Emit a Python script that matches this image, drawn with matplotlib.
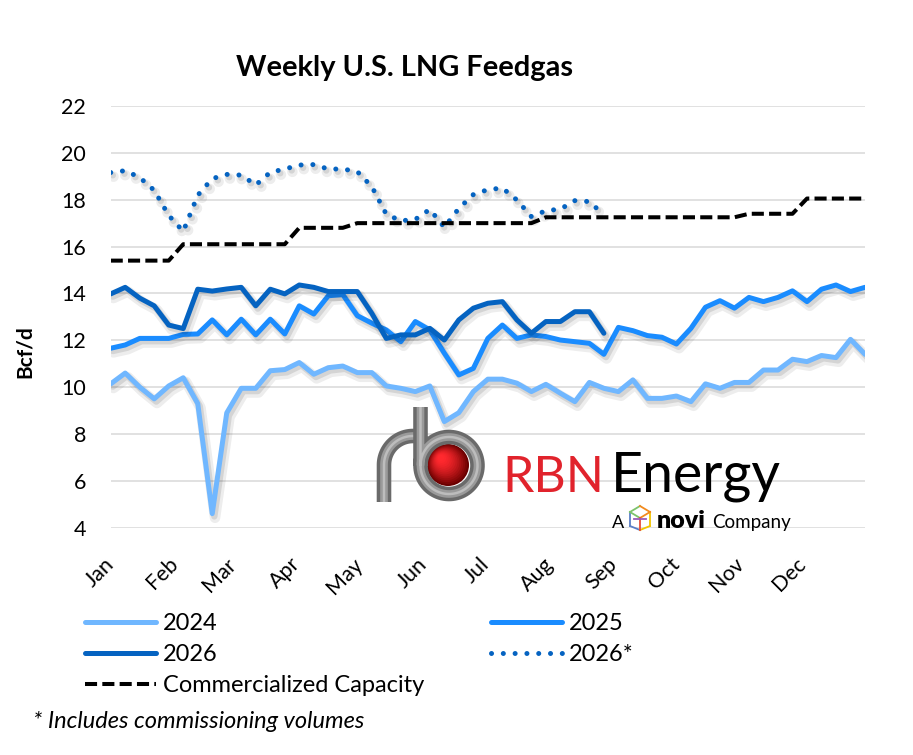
import numpy as np
import matplotlib
matplotlib.use("Agg")
import matplotlib.pyplot as plt
from matplotlib import patheffects as pe
from matplotlib.transforms import Affine2D, ScaledTranslation
from matplotlib.patches import Circle
from matplotlib.lines import Line2D

plt.rcParams['font.family'] = ['Lato', 'DejaVu Sans']

# ---------------- data ----------------
months = ["Jan", "Feb", "Mar", "Apr", "May", "Jun", "Jul", "Aug", "Sep", "Oct", "Nov", "Dec"]
month_start_day = [0, 31, 59, 90, 120, 151, 181, 212, 243, 273, 304, 334]

feedgas_2024 = [10.14, 10.6, 10.0, 9.5, 10.05, 10.4, 9.3, 4.6, 8.9, 9.95,
                9.95, 10.7, 10.75, 11.05, 10.55, 10.83, 10.9, 10.62, 10.62, 10.05,
                9.95, 9.81, 10.05, 8.53, 8.91, 9.81, 10.34, 10.34, 10.17, 9.81,
                10.12, 9.74, 9.38, 10.2, 9.95, 9.81, 10.31, 9.52, 9.52, 9.62,
                9.38, 10.14, 9.95, 10.2, 10.2, 10.73, 10.73, 11.19, 11.09, 11.35,
                11.26, 12.04, 11.4]
feedgas_2025 = [11.66, 11.8, 12.08, 12.08, 12.08, 12.25, 12.27, 12.87, 12.23, 12.9,
                12.23, 12.9, 12.27, 13.47, 13.12, 13.9, 13.95, 13.05, 12.73, 12.44,
                11.94, 12.8, 12.44, 11.45, 10.52, 10.8, 12.08, 12.65, 12.08, 12.23,
                12.16, 12.01, 11.94, 11.87, 11.4, 12.55, 12.41, 12.2, 12.13, 11.84,
                12.51, 13.41, 13.69, 13.37, 13.83, 13.65, 13.83, 14.11, 13.65, 14.18,
                14.36, 14.08, 14.26]
feedgas_2026 = [13.98, 14.26, 13.8, 13.47, 12.65, 12.5, 14.18, 14.1, 14.19, 14.26,
                13.47, 14.18, 13.98, 14.36, 14.26, 14.08, 14.08, 14.08, 13.15, 12.08,
                12.23, 12.23, 12.51, 12.01, 12.87, 13.37, 13.58, 13.65, 12.87, 12.3,
                12.8, 12.8, 13.22, 13.22, 12.3]
feedgas_2026_comm = [19.16, 19.24, 18.95, 18.4, 17.33, 16.65, 18.19, 18.9, 19.08, 19.05,
                     18.63, 19.17, 19.31, 19.48, 19.5, 19.31, 19.31, 19.2, 18.56, 17.38,
                     17.1, 17.16, 17.59, 16.82, 17.63, 18.22, 18.43, 18.5, 17.99, 17.28,
                     17.53, 17.6, 17.96, 17.92, 17.35]
capacity = [15.4, 15.4, 15.4, 15.4, 15.4,
            16.1, 16.1, 16.1, 16.1, 16.1, 16.1, 16.1, 16.1,
            16.8, 16.8, 16.8, 16.8,
            17.0, 17.0, 17.0, 17.0, 17.0, 17.0, 17.0, 17.0, 17.0, 17.0, 17.0, 17.0, 17.0,
            17.25, 17.25, 17.25, 17.25, 17.25, 17.25, 17.25, 17.25, 17.25, 17.25, 17.25,
            17.25, 17.25, 17.25,
            17.4, 17.4, 17.4, 17.4,
            18.05, 18.05, 18.05, 18.05, 18.05]

y_ticks = [4, 6, 8, 10, 12, 14, 16, 18, 20, 22]

# week positions in days of year
week_day = np.arange(len(feedgas_2024)) * 7

# ---------------- style ----------------
c2024 = "#70b7ff"
c2025 = "#1a8cff"
c2026 = "#0563c1"
LW = 3.6

W, H = 913, 755
def fx(px):
    return px / W
def fy(py):
    return 1 - py / H

fig = plt.figure(figsize=(W / 100, H / 100), dpi=100)
fig.patch.set_facecolor("white")
ax = fig.add_axes([fx(110.7), fy(527.7), (865 - 110.7) / W, (527.7 - 106) / H])

shadow = [pe.SimpleLineShadow(offset=(2.0, -3.0), shadow_color='k', alpha=0.07, linewidth=LW + 4),
          pe.SimpleLineShadow(offset=(1.5, -2.0), shadow_color='k', alpha=0.10, linewidth=LW + 1),
          pe.Normal()]

ax.plot(week_day, feedgas_2024, color=c2024, lw=LW, solid_joinstyle='round',
        solid_capstyle='round', path_effects=shadow, zorder=3)
ax.plot(week_day, feedgas_2025, color=c2025, lw=LW, solid_joinstyle='round',
        solid_capstyle='round', path_effects=shadow, zorder=3.1)
ax.plot(week_day[:len(feedgas_2026)], feedgas_2026, color=c2026, lw=LW,
        solid_joinstyle='round', solid_capstyle='round', path_effects=shadow, zorder=3.2)
ax.plot(week_day[:len(feedgas_2026_comm)], feedgas_2026_comm, color=c2026, lw=LW,
        linestyle=(0, (0.01, 2.35)), dash_capstyle='round', path_effects=shadow, zorder=3.3)
ax.plot(week_day, capacity, color='black', lw=2.9, linestyle=(0, (3.0, 1.3)),
        dash_capstyle='butt', zorder=3.4)

ax.set_xlim(0, 364)
ax.set_ylim(4, 22)
ax.set_yticks(y_ticks)
ax.set_yticklabels([str(v) for v in y_ticks])
ax.set_xticks(month_start_day)
ax.set_xticklabels(months, rotation=45, ha='right', va='center', rotation_mode='anchor')
off = ScaledTranslation(0.06, 0, fig.dpi_scale_trans)
for lbl in ax.get_xticklabels():
    lbl.set_transform(lbl.get_transform() + off)

ax.tick_params(axis='y', length=0, pad=17.8, labelsize=15.5, labelcolor='black')
ax.tick_params(axis='x', length=0, pad=24, labelsize=15.5, labelcolor='black')
ax.grid(axis='y', color='#d9d9d9', lw=1.1)
ax.grid(axis='x', visible=False)
ax.set_axisbelow(True)
for s in ax.spines.values():
    s.set_visible(False)

# ---------------- titles ----------------
fig.text(fx(404), fy(68), "Weekly U.S. LNG Feedgas", ha='center', va='center',
         fontsize=20.9, fontweight='bold')
fig.text(fx(25), fy(352), "Bcf/d", ha='center', va='center', rotation=90,
         fontsize=15, fontweight='bold')
fig.text(fx(33), fy(722), "* Includes commissioning volumes", ha='left', va='center',
         fontsize=17, style='italic')

# ---------------- legends ----------------
h2024 = Line2D([], [], color=c2024, lw=LW, solid_capstyle='round')
h2025 = Line2D([], [], color=c2025, lw=LW, solid_capstyle='round')
h2026 = Line2D([], [], color=c2026, lw=LW, solid_capstyle='round')
h2026s = Line2D([], [], color=c2026, lw=LW, linestyle=(0, (0.01, 2.35)), dash_capstyle='round')
hcap = Line2D([], [], color='black', lw=2.9, linestyle=(0, (3.0, 1.3)))
leg_kw = dict(loc='upper left', frameon=False, fontsize=17, handlelength=3.0,
              handletextpad=0.3, labelspacing=0.42, borderpad=0, borderaxespad=0)
fig.legend([h2024, h2026, hcap], ["2024", "2026", "Commercialized Capacity"],
           bbox_to_anchor=(fx(85), fy(613)), **leg_kw)
fig.legend([h2025, h2026s], ["2025", "2026*"],
           bbox_to_anchor=(fx(491), fy(613)), **leg_kw)

# ---------------- logo (pixel coordinates, top-left origin) ----------------
T = Affine2D().scale(1, -1).translate(0, H)

# red sphere with simple gradient
N = 14
dark = np.array([0.42, 0.0, 0.0])
bright = np.array([1.0, 0.16, 0.18])
for k in range(N):
    t = k / (N - 1)
    r = 21 * (1 - 0.85 * t)
    cx = 448 - 7 * t
    cy = 465 - 7 * t
    col = dark * (1 - t) ** 1.5 + bright * (1 - (1 - t) ** 1.5)
    ax.add_patch(Circle((cx, cy), r, transform=T, facecolor=col, edgecolor='none',
                        zorder=1.5, clip_on=False))

# pipe "r"
th = np.linspace(np.pi, np.pi / 2, 30)
rx = np.concatenate([[384, 384], 413 + 29 * np.cos(th), [421]])
ry = np.concatenate([[502, 465], 465 - 29 * np.sin(th), [436]])
# pipe "b"
th2 = np.linspace(np.pi, np.pi + 2 * np.pi, 90)
bx = np.concatenate([[420.5, 420.5], 449 + 28.5 * np.cos(th2)])
by = np.concatenate([[407, 465.5], 465.5 - 28.5 * np.sin(th2)])
for xs, ys, z in [(rx, ry, 1.6), (bx, by, 1.7)]:
    ax.add_line(Line2D(xs, ys, transform=T, color='#6a6a6a', lw=10.5,
                       solid_capstyle='butt', solid_joinstyle='round', zorder=z, clip_on=False))
    ax.add_line(Line2D(xs, ys, transform=T, color='#9a9a9a', lw=5.5,
                       solid_capstyle='butt', solid_joinstyle='round', zorder=z + 0.01, clip_on=False))
    ax.add_line(Line2D(xs, ys, transform=T, color='#bdbdbd', lw=1.8,
                       solid_capstyle='butt', solid_joinstyle='round', zorder=z + 0.02, clip_on=False))

ax.text(502, 492, "RBN", transform=T, fontsize=36, color="#e1232c", ha='left',
        va='baseline', zorder=1.8, clip_on=False)
ax.text(611, 492, "Energy", transform=T, fontsize=40, color="black", ha='left',
        va='baseline', zorder=1.8, clip_on=False)
ax.text(612, 528, "A", transform=T, fontsize=13, color="black", ha='left',
        va='baseline', zorder=1.8, clip_on=False)
ax.text(657, 528, "novi", transform=T, fontsize=18, color="black", ha='left',
        va='baseline', fontweight='heavy', zorder=1.8, clip_on=False)
ax.text(712, 528, "Company", transform=T, fontsize=13.5, color="black", ha='left',
        va='baseline', zorder=1.8, clip_on=False)
icon_segments = [
    ((630, 512), (630, 526), '#5b7fc7'), ((630, 526), (640, 530), '#5b7fc7'),
    ((640, 506), (630, 512), '#7cc36b'), ((640, 518), (630, 512), '#7cc36b'),
    ((650, 512), (650, 526), '#f2c500'), ((640, 530), (650, 526), '#f2c500'),
    ((640, 506), (650, 512), '#f28a1e'), ((640, 518), (650, 512), '#f28a1e'),
    ((640, 518), (640, 530), '#e74c3c'), ((634, 519), (646, 519), '#9b59b6'),
]
for (x0, y0), (x1, y1), col in icon_segments:
    ax.add_line(Line2D([x0, x1], [y0, y1], transform=T, color=col, lw=1.3,
                       zorder=1.8, clip_on=False))

fig.savefig("out.png", dpi=100)
